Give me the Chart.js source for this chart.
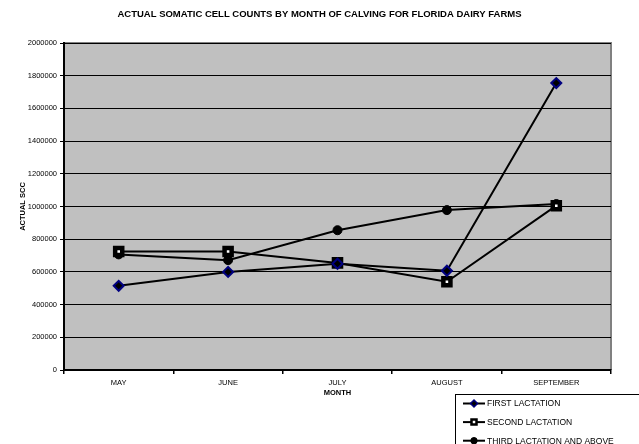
<!DOCTYPE html>
<html>
<head>
<meta charset="utf-8">
<script src="https://cdn.jsdelivr.net/npm/chart.js@4.4.1/dist/chart.umd.min.js"></script>
<style>
  html, body { margin: 0; padding: 0; background: #fff; }
  #wrap { position: relative; width: 639px; height: 444px; }
</style>
</head>
<body>
<div id="wrap"><canvas id="scc" width="639" height="444"></canvas></div>
<script>
// ── DATA ──
const MONTHS = ['MAY', 'JUNE', 'JULY', 'AUGUST', 'SEPTEMBER'];
const FIRST_LACT  = [515000, 600000, 650000, 607000, 1755000];
const SECOND_LACT = [725000, 725000, 655000, 540000, 1005000];
const THIRD_LACT  = [707000, 672000, 855000, 978000, 1015000];
const SERIES_LABELS = ['FIRST LACTATION', 'SECOND LACTATION', 'THIRD LACTATION AND ABOVE'];
const CHART_TITLE = 'ACTUAL SOMATIC CELL COUNTS BY MONTH OF CALVING FOR FLORIDA DAIRY FARMS';

const FONT = "Arial, 'Liberation Sans', sans-serif";
const PLOT_BG = '#C0C0C0';

// gray plot background + gray frame on top/right, like the old Excel chart
const plotBackground = {
  id: 'plotBackground',
  beforeDraw(chart) {
    const { ctx, chartArea: a } = chart;
    ctx.save();
    ctx.fillStyle = PLOT_BG;
    ctx.fillRect(a.left, a.top, a.right - a.left, a.bottom - a.top);
    ctx.strokeStyle = '#808080';
    ctx.lineWidth = 2;
    ctx.beginPath();
    ctx.moveTo(a.left, a.top);
    ctx.lineTo(a.right, a.top);
    ctx.lineTo(a.right, a.bottom);
    ctx.stroke();
    ctx.restore();
  }
};

// title centred on the whole canvas, not on the padded chart box
const pageTitle = {
  id: 'pageTitle',
  afterDraw(chart) {
    const { ctx, width } = chart;
    ctx.save();
    ctx.fillStyle = '#000';
    ctx.font = 'bold 9.5px ' + FONT;
    ctx.textAlign = 'center';
    ctx.textBaseline = 'middle';
    ctx.fillText(CHART_TITLE, width / 2, 14.5);
    ctx.restore();
  }
};

// boxed legend sitting in the bottom-right corner
const boxLegend = {
  id: 'boxLegend',
  afterDraw(chart) {
    const { ctx } = chart;
    const x0 = 455, y0 = 394, rowH = 18.6;
    ctx.save();
    ctx.fillStyle = '#fff';
    ctx.fillRect(x0, y0, 200, 60);
    ctx.strokeStyle = '#000';
    ctx.lineWidth = 1;
    ctx.strokeRect(x0 + 0.5, y0 + 0.5, 200, 60);
    chart.data.datasets.forEach((ds, i) => {
      const y = y0 + 9.5 + i * rowH;
      const cx = x0 + 19;
      ctx.strokeStyle = '#000';
      ctx.lineWidth = 2;
      ctx.beginPath();
      ctx.moveTo(x0 + 8, y);
      ctx.lineTo(x0 + 30, y);
      ctx.stroke();
      ctx.fillStyle = ds.pointBackgroundColor;
      ctx.strokeStyle = ds.pointBorderColor;
      ctx.beginPath();
      if (ds.pointStyle === 'rectRot') {
        const r = 3.5;
        ctx.lineWidth = 1.5;
        ctx.moveTo(cx, y - r); ctx.lineTo(cx + r, y);
        ctx.lineTo(cx, y + r); ctx.lineTo(cx - r, y); ctx.closePath();
      } else if (ds.pointStyle === 'rect') {
        ctx.lineWidth = 2.5;
        ctx.rect(cx - 2.5, y - 2.5, 5, 5);
      } else {
        ctx.lineWidth = 1;
        ctx.arc(cx, y, 3.2, 0, Math.PI * 2);
      }
      ctx.fill();
      ctx.stroke();
      ctx.fillStyle = '#000';
      ctx.font = '8.5px ' + FONT;
      ctx.textBaseline = 'middle';
      ctx.fillText(ds.label, x0 + 32, y + 0.5);
    });
    ctx.restore();
  }
};

const lineDefaults = {
  borderColor: '#000',
  borderWidth: 2,
  tension: 0,
  fill: false
};

new Chart(document.getElementById('scc'), {
  type: 'line',
  data: {
    labels: MONTHS,
    datasets: [
      { ...lineDefaults, label: SERIES_LABELS[0], data: FIRST_LACT,
        pointStyle: 'rectRot', pointRadius: 5, pointBackgroundColor: '#000', pointBorderColor: '#000080', pointBorderWidth: 2 },
      { ...lineDefaults, label: SERIES_LABELS[1], data: SECOND_LACT,
        pointStyle: 'rect', pointRadius: 5, pointBackgroundColor: '#fff', pointBorderColor: '#000', pointBorderWidth: 4.5 },
      { ...lineDefaults, label: SERIES_LABELS[2], data: THIRD_LACT,
        pointStyle: 'circle', pointRadius: 4.5, pointBackgroundColor: '#000', pointBorderColor: '#000', pointBorderWidth: 1 }
    ]
  },
  options: {
    responsive: false,
    animation: false,
    devicePixelRatio: 1,
    layout: { padding: { left: 14, right: 28, top: 43, bottom: 45 } },
    plugins: {
      legend: { display: false },
      tooltip: { enabled: false },
      title: { display: false }
    },
    scales: {
      x: {
        offset: true,
        grid: { drawOnChartArea: false, drawTicks: true, tickLength: 4, color: '#000', lineWidth: 1.5, offset: true },
        border: { display: true, color: '#000', width: 2 },
        ticks: { color: '#000', font: { family: FONT, size: 7.5 }, padding: 4, maxRotation: 0 },
        title: { display: true, text: 'MONTH', color: '#000', font: { family: FONT, size: 7.5, weight: 'bold' }, padding: { top: 0, bottom: 2 } },
        afterFit: s => { s.height = 29; }
      },
      y: {
        min: 0, max: 2000000,
        grid: { color: '#000', lineWidth: 1, drawTicks: true, tickLength: 4, tickColor: '#000' },
        border: { display: true, color: '#000', width: 2 },
        ticks: { stepSize: 200000, color: '#000', font: { family: FONT, size: 7.5 }, padding: 3, callback: v => String(v) },
        title: { display: true, text: 'ACTUAL SCC', color: '#000', font: { family: FONT, size: 7.5, weight: 'bold' }, padding: { bottom: 6 } },
        afterFit: s => { s.width = 50; }
      }
    }
  },
  plugins: [plotBackground, pageTitle, boxLegend]
});
</script>
</body>
</html>
